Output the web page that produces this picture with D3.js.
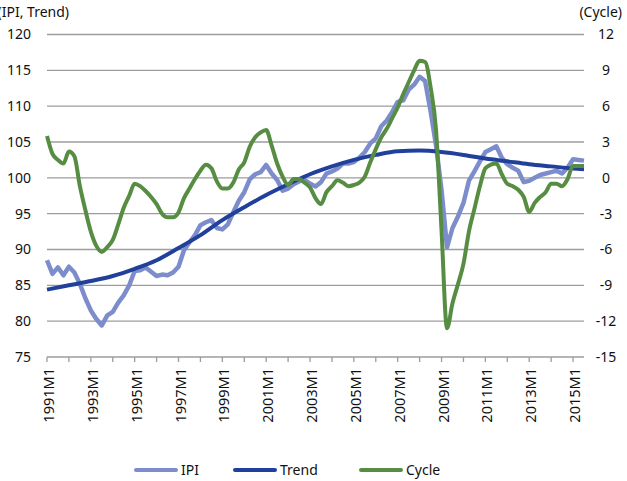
<!DOCTYPE html>
<html>
<head>
<meta charset="utf-8">
<script src="https://cdn.jsdelivr.net/npm/d3@7"></script>
<style>
  body { margin: 0; background: #fff; }
  text { font-family: "Noto Sans", "Open Sans", sans-serif; fill: #111; }
</style>
</head>
<body>
<script>
// quarterly readings, first value = 1991M1, one value every 3 months
const ipi = [
  88.5, 86.6, 87.5, 86.4, 87.6, 86.8, 85.2, 83.2,
  81.5, 80.3, 79.4, 80.8, 81.3, 82.6, 83.6, 85.0,
  87.0, 87.1, 87.5, 86.9, 86.3, 86.5, 86.4, 86.8,
  87.6, 89.9, 91.0, 92.0, 93.4, 93.8, 94.1, 93.0,
  92.8, 93.5, 95.2, 96.8, 98.0, 99.8, 100.5, 100.8,
  101.8, 100.6, 99.7, 98.2, 98.5, 99.1, 99.5, 99.7,
  99.2, 98.8, 99.4, 100.6, 100.9, 101.3, 102.0, 102.0,
  102.2, 102.8, 103.6, 104.8, 105.5, 107.2, 108.0, 109.2,
  110.6, 110.8, 112.3, 113.0, 114.1, 113.5, 109.3, 104.5,
  98.3, 90.3, 93.0, 94.6, 96.5, 99.6, 100.9, 102.3,
  103.6, 104.0, 104.4, 102.8, 101.9, 101.4, 101.0, 99.4,
  99.6, 100.0, 100.4, 100.6, 100.8, 101.0, 100.6, 101.4,
  102.6, 102.5, 102.4
];

const cycle = [
  3.5, 2.0, 1.5, 1.2, 2.2, 1.8, -0.7, -2.7,
  -4.5, -5.7, -6.2, -5.8, -5.2, -3.9, -2.5, -1.5,
  -0.5, -0.7, -1.1, -1.6, -2.2, -3.0, -3.3, -3.3,
  -2.9, -1.7, -0.9, -0.1, 0.6, 1.1, 0.8, -0.3,
  -0.9, -0.9, -0.4, 0.7, 1.3, 2.6, 3.4, 3.8,
  4.0, 2.7, 1.2, 0.1, -0.6, -0.1, -0.1, -0.4,
  -0.8, -1.7, -2.2, -1.2, -0.7, -0.2, -0.4, -0.7,
  -0.6, -0.4, 0.1, 1.3, 2.4, 3.4, 4.1, 5.0,
  5.9, 7.0, 8.0, 9.0, 9.8, 9.7, 7.6, 4.0,
  -4.4, -12.6, -10.5, -8.9, -7.2, -4.5, -2.6, -0.7,
  0.8, 1.1, 1.2, 0.3, -0.5, -0.7, -1.0, -1.6,
  -2.85, -2.1, -1.6, -1.2, -0.5, -0.5, -0.7, -0.1,
  1.0, 1.0, 1.0
];

// yearly readings of the trend (January of each year), last = 2015M7
const trendMonths = [0, 12, 24, 36, 48, 60, 72, 84, 96, 108, 120, 132, 144,
  156, 168, 180, 192, 204, 216, 228, 240, 252, 264, 276, 288, 294];
const trend = [84.4, 85.0, 85.6, 86.3, 87.3, 88.5, 90.2, 92.0, 94.1, 95.9, 97.6, 99.1, 100.5,
  101.6, 102.5, 103.2, 103.7, 103.8, 103.6, 103.2, 102.7, 102.3, 101.9, 101.6, 101.3, 101.2];

const xLabels = ["1991M1", "1993M1", "1995M1", "1997M1", "1999M1", "2001M1", "2003M1",
  "2005M1", "2007M1", "2009M1", "2011M1", "2013M1", "2015M1"];
const leftTicks = [75, 80, 85, 90, 95, 100, 105, 110, 115, 120];
const rightTicks = [-15, -12, -9, -6, -3, 0, 3, 6, 9, 12];

const width = 627;
const height = 481;
const svg = d3.select('body').append('svg')
    .attr('width', width)
    .attr('height', height);

const x = d3.scaleLinear().domain([0, 294]).range([47, 584]);
const yL = d3.scaleLinear().domain([75, 120]).range([357, 34.5]);
const yR = d3.scaleLinear().domain([-15, 12]).range([357, 34.5]);

// grid
svg.append("g").selectAll("line")
    .data(leftTicks)
    .join("line")
    .attr("x1", x(0))
    .attr("x2", x(294))
    .attr("y1", d => yL(d))
    .attr("y2", d => yL(d))
    .attr("stroke", "#9c9c9c")
    .attr("stroke-width", 1.3);

// bottom ticks, one per year
svg.append("g").selectAll("line")
    .data(d3.range(0, 295, 12))
    .join("line")
    .attr("x1", d => x(d))
    .attr("x2", d => x(d))
    .attr("y1", yL(75))
    .attr("y2", yL(75) + 5)
    .attr("stroke", "#9c9c9c")
    .attr("stroke-width", 1.3);

svg.append("g").selectAll("text")
    .data(xLabels)
    .join("text")
    .attr("transform", (d, i) => `translate(${x(i * 24) + 2},368) rotate(-90)`)
    .attr("text-anchor", "end")
    .attr("dy", "0.35em")
    .attr("font-size", "14.5px")
    .text(d => d);

svg.append("g").selectAll("text")
    .data(leftTicks)
    .join("text")
    .attr("x", 31)
    .attr("y", d => yL(d))
    .attr("dy", "0.35em")
    .attr("text-anchor", "end")
    .attr("font-size", "14px")
    .text(d => d);

svg.append("g").selectAll("text")
    .data(rightTicks)
    .join("text")
    .attr("x", 606)
    .attr("y", d => yR(d))
    .attr("dy", "0.35em")
    .attr("text-anchor", "middle")
    .attr("font-size", "14px")
    .text(d => d);

svg.append("text")
    .attr("x", 69)
    .attr("y", 17)
    .attr("text-anchor", "end")
    .attr("font-size", "14px")
    .text("(IPI, Trend)");

svg.append("text")
    .attr("x", 622)
    .attr("y", 17)
    .attr("text-anchor", "end")
    .attr("font-size", "14px")
    .text("(Cycle)");

const colIPI = "#7d8dcb";
const colTrend = "#21409b";
const colCycle = "#578d42";

const ipiLine = d3.line()
    .x((d, i) => x(i * 3))
    .y(d => yL(d));

const trendLine = d3.line()
    .x((d, i) => x(trendMonths[i]))
    .y(d => yL(d))
    .curve(d3.curveMonotoneX);

const cycleLine = d3.line()
    .x((d, i) => x(i * 3))
    .y(d => yR(d))
    .curve(d3.curveMonotoneX);

svg.append("path")
    .attr("d", ipiLine(ipi))
    .attr("fill", "none")
    .attr("stroke", colIPI)
    .attr("stroke-width", 4.5)
    .attr("stroke-linejoin", "round");

svg.append("path")
    .attr("d", trendLine(trend))
    .attr("fill", "none")
    .attr("stroke", colTrend)
    .attr("stroke-width", 4);

svg.append("path")
    .attr("d", cycleLine(cycle))
    .attr("fill", "none")
    .attr("stroke", colCycle)
    .attr("stroke-width", 4)
    .attr("stroke-linejoin", "round");

// legend
const legend = [
  { name: "IPI", color: colIPI, x: 134 },
  { name: "Trend", color: colTrend, x: 233 },
  { name: "Cycle", color: colCycle, x: 359 }
];

const lg = svg.append("g").selectAll("g")
    .data(legend)
    .join("g");

lg.append("line")
    .attr("x1", d => d.x + 2)
    .attr("x2", d => d.x + 42)
    .attr("y1", 470)
    .attr("y2", 470)
    .attr("stroke", d => d.color)
    .attr("stroke-width", 4)
    .attr("stroke-linecap", "round");

lg.append("text")
    .attr("x", d => d.x + 47)
    .attr("y", 470)
    .attr("dy", "0.35em")
    .attr("font-size", "14px")
    .text(d => d.name);
</script>
</body>
</html>
